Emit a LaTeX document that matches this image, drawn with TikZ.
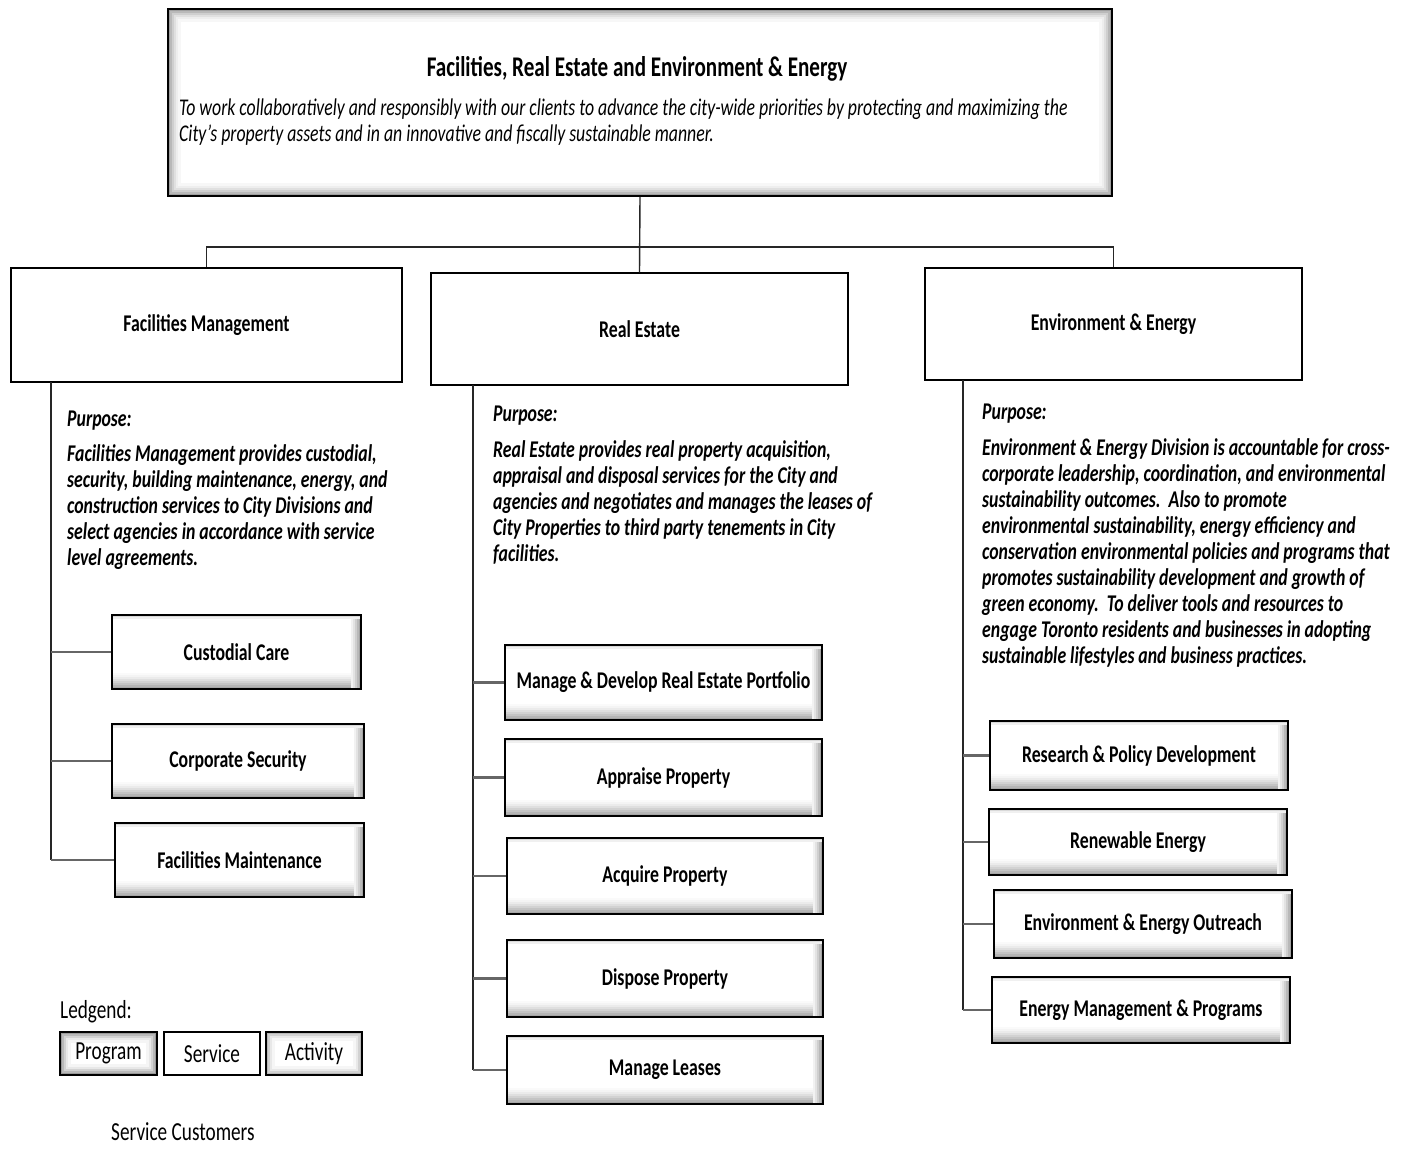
\documentclass[tikz,border=0pt]{standalone}
\usepackage{fontspec}
\setmainfont{Carlito}[FakeStretch=0.74]
\begin{document}
\begin{tikzpicture}[x=1pt,y=-1pt,
  base/.style={font=\fontsize{24}{26}\selectfont},
  plainbox/.style={draw,line width=1.3pt,fill=white,inner sep=0pt,font=\fontsize{24}{26}\selectfont\bfseries},
  glowbox/.style={draw,line width=1.8pt,fill=white,inner sep=0pt,
    path picture={
      \foreach \d/\c in {1.5/75,3.5/55,5.5/38,7.5/24,9.5/13,11.5/6}
        \draw[gray!\c,line width=2.2pt] ([shift={(\d pt,\d pt)}]path picture bounding box.south west) rectangle ([shift={(-\d pt,-\d pt)}]path picture bounding box.north east);
    }},
  actbox/.style={draw,line width=1.5pt,fill=white,inner sep=0pt,font=\fontsize{24}{26}\selectfont\bfseries,
    path picture={
      \foreach \d/\c in {1/70,3/58,5/46,7/35,9/25,11/16,13/9,15/4}
        \draw[gray!\c,line width=2.1pt] ([yshift=\d pt]path picture bounding box.south west) -- ([yshift=\d pt]path picture bounding box.south east);
      \foreach \d/\c in {1/72,3/55,5/38,7/22,9/10}
        \draw[gray!\c,line width=2.1pt] ([xshift=-\d pt]path picture bounding box.south east) -- ([xshift=-\d pt]path picture bounding box.north east);
      \foreach \d/\c in {1/30,3/12}
        \draw[gray!\c,line width=2.1pt] ([yshift=-\d pt]path picture bounding box.north west) -- ([yshift=-\d pt]path picture bounding box.north east);
    }},
  spine/.style={line width=1.4pt,black!85},
  branch/.style={line width=2.6pt,gray!80!black},
  purpose/.style={anchor=north west,inner sep=0pt,align=left,font=\fontsize{24}{26}\selectfont\bfseries\itshape}
]
\useasboundingbox (0,0) rectangle (1409,1151);
\fill[white] (0,0) rectangle (1409,1151);

% top program box
\node[glowbox,minimum width=944pt,minimum height=187pt] (top) at (640,102.5) {};
\node[base,inner sep=0pt,font=\fontsize{28.5}{30}\selectfont\bfseries] (title) at (637,69) {Facilities, Real Estate and Environment \& Energy};
\node[anchor=north west,inner sep=0pt,align=left,font=\fontsize{24}{26}\selectfont\itshape] (mission) at (179,97)
 {\strut To work collaboratively and responsibly with our clients to advance the city-wide priorities by protecting and maximizing the\\
  \strut City's property assets and in an innovative and fiscally sustainable manner.};

% services
\node[plainbox,minimum width=391pt,minimum height=114pt] (fm) at (206.5,325) {Facilities Management};
\node[plainbox,minimum width=417pt,minimum height=112pt] (re) at (639.5,329) {Real Estate};
\node[plainbox,minimum width=377pt,minimum height=112pt] (ee) at (1113.5,324) {Environment \& Energy};

\coordinate (hj) at (640,247);
\draw[spine] (top.south) -- (re.north);
\draw[spine] (fm.north) |- (hj) -| (ee.north);

% purposes
\node[purpose] (fmp) at (67,408) {\strut Purpose:\\[9pt]
 \strut Facilities Management provides custodial,\\
 \strut security, building maintenance, energy, and\\
 \strut construction services to City Divisions and\\
 \strut select agencies in accordance with service\\
 \strut level agreements.};
\node[purpose] (rep) at (493,403) {\strut Purpose:\\[10pt]
 \strut Real Estate provides real property acquisition,\\
 \strut appraisal and disposal services for the City and\\
 \strut agencies and negotiates and manages the leases of\\
 \strut City Properties to third party tenements in City\\
 \strut facilities.};
\node[purpose] (eep) at (982,401) {\strut Purpose:\\[10pt]
 \strut Environment \& Energy Division is accountable for cross-\\
 \strut corporate leadership, coordination, and environmental\\
 \strut sustainability outcomes.\ \ Also to promote\\
 \strut environmental sustainability, energy efficiency and\\
 \strut conservation environmental policies and programs that\\
 \strut promotes sustainability development and growth of\\
 \strut green economy.\ \ To deliver tools and resources to\\
 \strut engage Toronto residents and businesses in adopting\\
 \strut sustainable lifestyles and business practices.};

% activities
\node[actbox,minimum width=249pt,minimum height=74pt] (fm1) at (236.5,652) {Custodial Care};
\node[actbox,minimum width=252pt,minimum height=74pt] (fm2) at (238,761) {Corporate Security};
\node[actbox,minimum width=249pt,minimum height=74pt] (fm3) at (239.5,860) {Facilities Maintenance};

\node[actbox,minimum width=317pt,minimum height=75pt] (re1) at (663.5,682.5) {Manage \& Develop Real Estate Portfolio};
\node[actbox,minimum width=317pt,minimum height=77pt] (re2) at (663.5,777.5) {Appraise Property};
\node[actbox,minimum width=316pt,minimum height=76pt] (re3) at (665,876) {Acquire Property};
\node[actbox,minimum width=316pt,minimum height=77pt] (re4) at (665,978.5) {Dispose Property};
\node[actbox,minimum width=316pt,minimum height=68pt] (re5) at (665,1070) {Manage Leases};

\node[actbox,minimum width=298pt,minimum height=69pt] (ee1) at (1139,755.5) {Research \& Policy Development};
\node[actbox,minimum width=298pt,minimum height=66pt] (ee2) at (1138,842) {Renewable Energy};
\node[actbox,minimum width=298pt,minimum height=68pt] (ee3) at (1143,924) {Environment \& Energy Outreach};
\node[actbox,minimum width=298pt,minimum height=66pt] (ee4) at (1141,1010) {Energy Management \& Programs};

% spines
\coordinate (fms) at (51,382);
\coordinate (res) at (473,385);
\coordinate (ees) at (963,380);
\draw[spine] (fms) -- (fms |- fm3.west);
\draw[spine] (res) -- (res |- re5.west);
\draw[spine] (ees) -- (ees |- ee4.west);
\foreach \n in {fm1,fm2,fm3} \draw[branch] (fms |- \n.west) -- (\n.west);
\foreach \n in {re1,re2,re3,re4,re5} \draw[branch] (res |- \n.west) -- (\n.west);
\foreach \n in {ee1,ee2,ee3,ee4} \draw[branch] (ees |- \n.west) -- (\n.west);

% legend
\node[anchor=west,inner sep=0pt,font=\fontsize{26}{28}\selectfont] (leg) at (60,1012) {Ledgend:};
\node[glowbox,line width=1.8pt,minimum width=97pt,minimum height=43pt,font=\fontsize{26}{28}\selectfont,
  path picture={
    \foreach \d/\c in {1.5/80,3.5/55,5.5/35,7.5/18,9.5/8}
      \draw[gray!\c,line width=2.2pt] ([shift={(\d pt,\d pt)}]path picture bounding box.south west) rectangle ([shift={(-\d pt,-\d pt)}]path picture bounding box.north east);
  }] (lp) at (108.5,1053.5) {Program};
\node[draw,line width=1.3pt,inner sep=0pt,minimum width=96pt,minimum height=43pt,font=\fontsize{26}{28}\selectfont] (ls) at (212,1053.5) {Service};
\node[draw,line width=1.5pt,fill=white,inner sep=0pt,minimum width=96pt,minimum height=43pt,font=\fontsize{26}{28}\selectfont,
  path picture={
    \foreach \d/\c in {1.5/55,3.5/35,5.5/18,7.5/7}
      \draw[gray!\c,line width=2.2pt] ([shift={(\d pt,\d pt)}]path picture bounding box.south west) rectangle ([shift={(-\d pt,-\d pt)}]path picture bounding box.north east);
  }] (la) at (314,1053.5) {Activity};
\node[anchor=west,inner sep=0pt,font=\fontsize{26}{28}\selectfont] (sc) at (111,1132) {Service Customers};
\end{tikzpicture}
\end{document}
